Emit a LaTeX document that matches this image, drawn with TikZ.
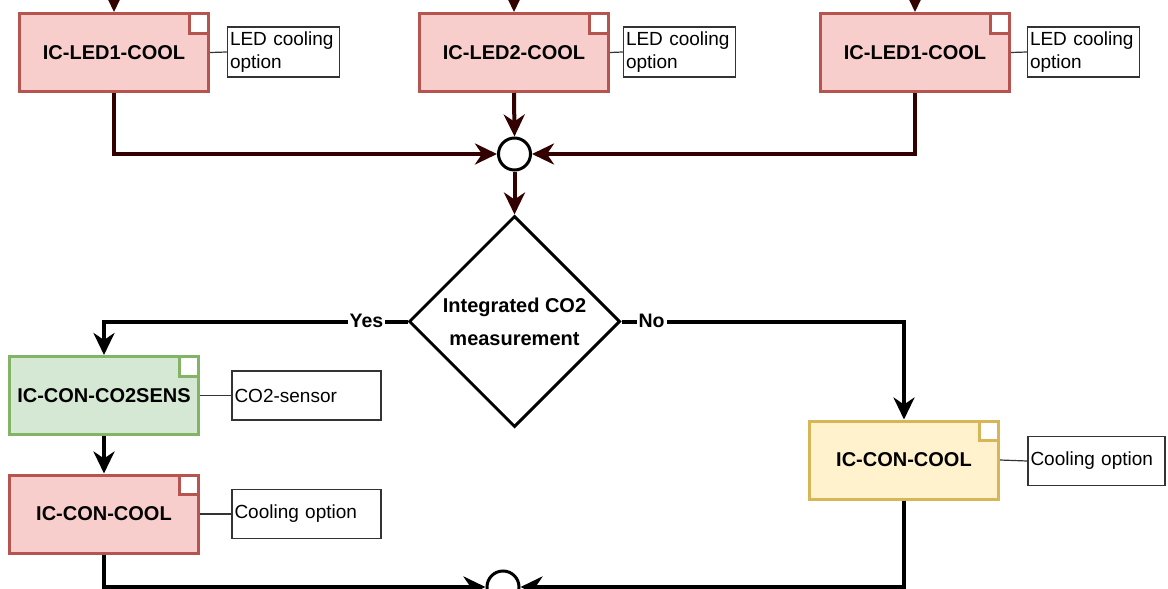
\documentclass[tikz,border=0pt]{standalone}
\usepackage{fontspec}
\setmainfont{Liberation Sans}
\usetikzlibrary{arrows.meta,shapes.geometric,calc}
\definecolor{redfill}{HTML}{F8CECC}
\definecolor{redline}{HTML}{B85450}
\definecolor{greenfill}{HTML}{D5E8D4}
\definecolor{greenline}{HTML}{82B366}
\definecolor{yelfill}{HTML}{FFF2CC}
\definecolor{yelline}{HTML}{D6B656}
\definecolor{darkred}{HTML}{330000}
\definecolor{notegray}{HTML}{333333}
\newcommand\cornerbox[2]{\draw[line width=3pt, draw=#2, fill=white] ($(#1.north east)+(-21pt,-1.5pt)$) rectangle ($(#1.north east)+(-1.5pt,-21pt)$);}
\begin{document}
\begin{tikzpicture}[x=1pt,y=-1pt,
  comp/.style={rectangle, minimum width=189pt, minimum height=78pt, line width=3pt, inner sep=0pt, font=\fontsize{20}{24}\selectfont\bfseries},
  redc/.style={comp, fill=redfill, draw=redline},
  greenc/.style={comp, fill=greenfill, draw=greenline},
  yelc/.style={comp, fill=yelfill, draw=yelline},
  note/.style={rectangle, draw=notegray, line width=1.5pt, fill=white, inner xsep=2.5pt, inner ysep=0pt, align=left, font=\fontsize{19}{23}\selectfont, minimum height=49pt},
  junc/.style={circle, draw=black, fill=white, line width=3pt, minimum size=32pt, inner sep=0pt},
  decision/.style={diamond, aspect=1, draw=black, fill=white, line width=3pt, minimum width=211pt, minimum height=211pt, inner sep=0pt, align=center, font=\fontsize{20}{33}\selectfont\bfseries},
  drarrow/.style={draw=darkred, line width=4pt, -{Stealth[length=22pt,width=21pt,inset=7pt]}},
  bkarrow/.style={draw=black, line width=4pt, -{Stealth[length=22pt,width=21pt,inset=7pt]}},
  link/.style={draw=notegray, line width=1.2pt},
  lbl/.style={fill=white, inner xsep=2pt, inner ysep=1pt, font=\fontsize{19.5}{23}\selectfont\bfseries}
]
\useasboundingbox (0,0) rectangle (1168,589);

% top components
\node[redc] (led1) at (114,52.5) {IC-LED1-COOL};
\node[redc] (led2) at (514,52.5) {IC-LED2-COOL};
\node[redc] (led3) at (915,52.5) {IC-LED1-COOL};
\cornerbox{led1}{redline}
\cornerbox{led2}{redline}
\cornerbox{led3}{redline}

\node[note, text width=107pt, minimum height=50pt] (n1) at (283.5,52) {LED cooling\\option};
\node[note, text width=107pt, minimum height=50pt] (n2) at (679.5,52) {LED cooling\\option};
\node[note, text width=107pt, minimum height=50pt] (n3) at (1083.5,52) {LED cooling\\option};
\draw[link] (led1.east) -- (n1.west);
\draw[link] (led2.east) -- (n2.west);
\draw[link] (led3.east) -- (n3.west);

% incoming arrows from above
\coordinate (t1) at (114,-10);
\coordinate (t2) at (514,-10);
\coordinate (t3) at (915,-10);
\draw[drarrow] (t1) -- (led1.north);
\draw[drarrow] (t2) -- (led2.north);
\draw[drarrow] (t3) -- (led3.north);

% junction
\node[junc] (j1) at (514.5,154) {};
\draw[drarrow] (led1.south) |- (j1.west);
\draw[drarrow] (led3.south) |- (j1.east);
\draw[drarrow] (led2.south) -- (j1.north);

% decision
\node[decision] (dec) at (514.5,321.5) {Integrated CO2\\measurement};
\draw[drarrow] (j1.south) -- (dec.north);

% left branch
\node[greenc] (co2) at (104,395.5) {IC-CON-CO2SENS};
\cornerbox{co2}{greenline}
\node[redc] (coolL) at (104,514) {IC-CON-COOL};
\cornerbox{coolL}{redline}
\node[note, text width=144pt] (nco2) at (306.5,395.5) {CO2-sensor};
\node[note, text width=144pt] (ncoolL) at (306.5,514) {Cooling option};
\draw[link] (co2.east) -- (nco2.west);
\draw[link] (coolL.east) -- (ncoolL.west);

% right branch
\node[yelc] (yel) at (904,460) {IC-CON-COOL};
\cornerbox{yel}{yelline}
\node[note, text width=132pt] (nyel) at (1096.5,461) {Cooling option};
\draw[link] (yel.east) -- (nyel.west);

\draw[bkarrow] (dec.west) -| (co2.north);
\draw[bkarrow] (dec.east) -| (yel.north);
\node[lbl] (yes) at (366.5,321) {Yes};
\node[lbl] (no) at (651.5,321) {No};

\draw[bkarrow] (co2.south) -- (coolL.north);

% bottom junction
\node[junc] (j2) at (503,587) {};
\draw[bkarrow] (coolL.south) |- (j2.west);
\draw[bkarrow] (yel.south) |- (j2.east);
\end{tikzpicture}
\end{document}
